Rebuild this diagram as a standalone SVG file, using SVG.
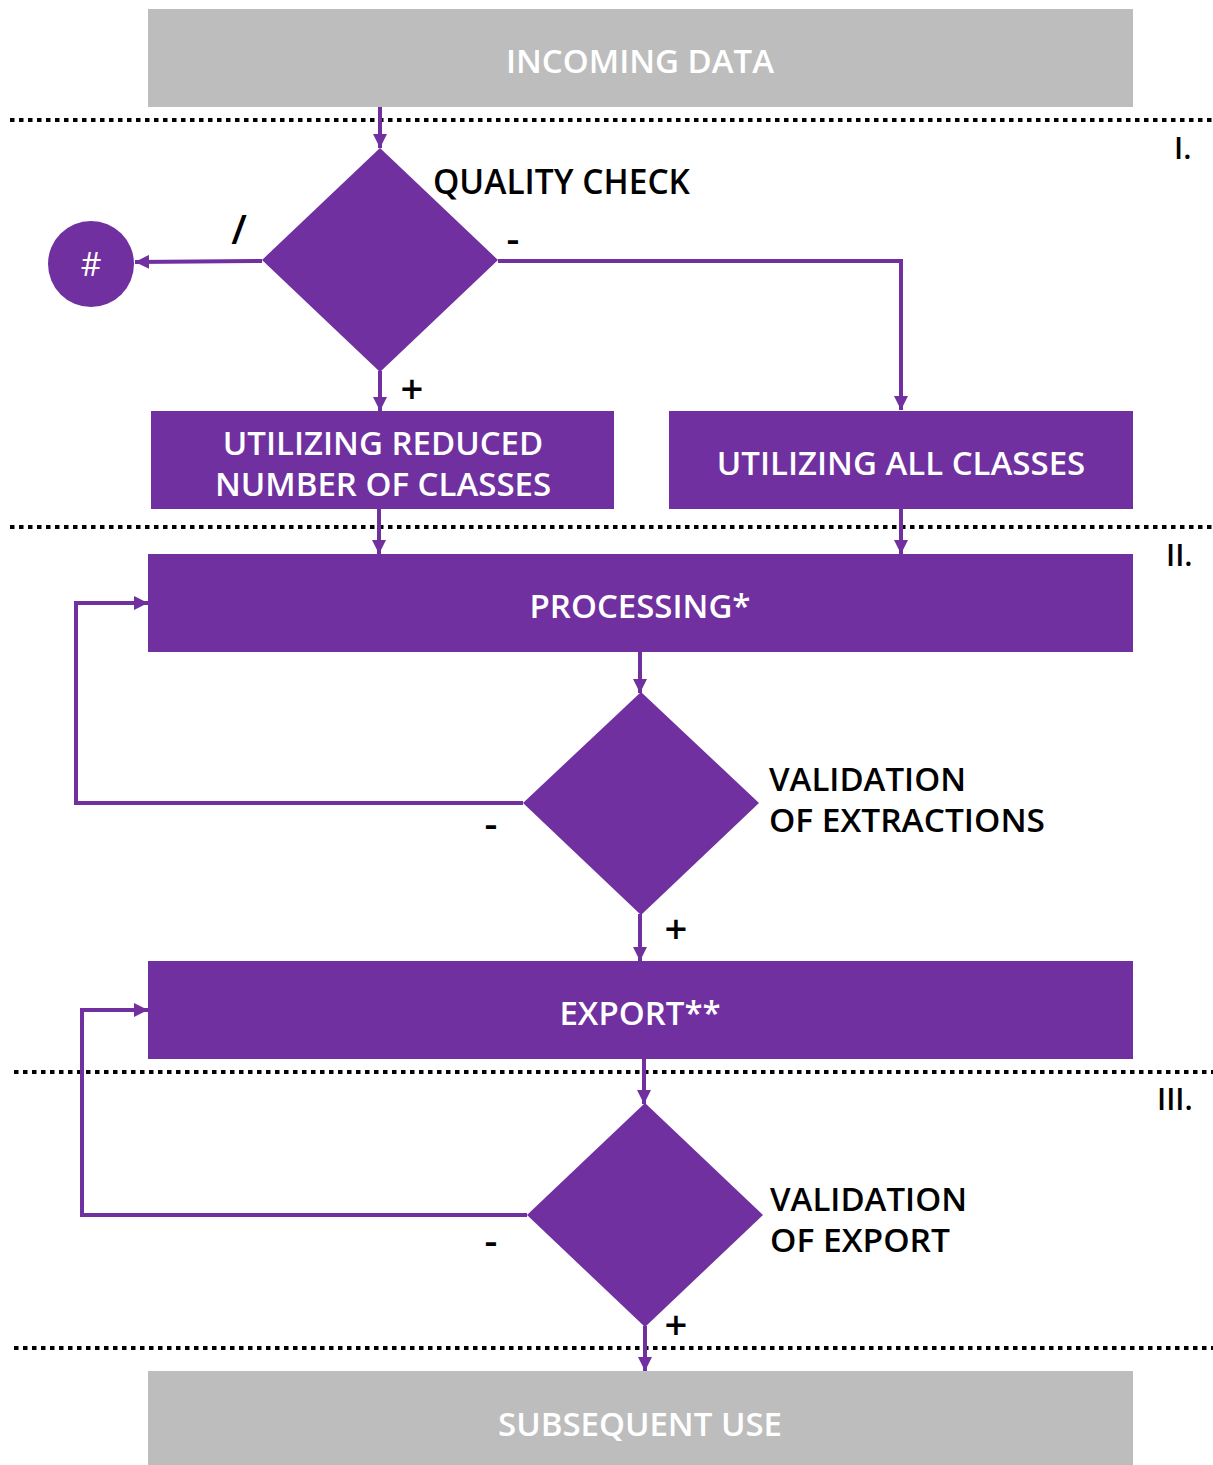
<svg xmlns="http://www.w3.org/2000/svg" width="1213" height="1465" viewBox="0 0 1213 1465">
<style>
.gray{fill:#bdbdbd}
.pur{fill:#7030a0}
.wt{fill:#ffffff;font-family:"Open Sans","Noto Sans",sans-serif;font-weight:600;font-size:33px;text-anchor:middle}
.bt{fill:#000000;font-family:"Open Sans","Noto Sans",sans-serif;font-weight:600;font-size:33.5px}
.bt2{fill:#000000;font-family:"Open Sans","Noto Sans",sans-serif;font-weight:600;font-size:33px}
.sym{fill:#000000;font-family:"Open Sans","Noto Sans",sans-serif;font-weight:600;font-size:40px;text-anchor:middle}
.dot{stroke:#000;stroke-width:4;stroke-dasharray:4.5 4.5;fill:none}
.con{stroke:#7030a0;stroke-width:4;fill:none}
</style>
<defs>
<marker id="ah" markerUnits="userSpaceOnUse" markerWidth="14" markerHeight="14" viewBox="0 0 14 14" refX="14" refY="7" orient="auto">
<path d="M0,0 L14,7 L0,14 Z" fill="#7030a0"/>
</marker>
</defs>
<g id="separators">
<line class="dot" x1="10" y1="120" x2="1213" y2="120"/>
<line class="dot" x1="10" y1="527" x2="1213" y2="527"/>
<line class="dot" x1="14" y1="1072" x2="1213" y2="1072"/>
<line class="dot" x1="14" y1="1348" x2="1213" y2="1348"/>
<text class="bt" x="1174" y="159" style="font-size:30px">I.</text>
<text class="bt" x="1166" y="566" style="font-size:30px">II.</text>
<text class="bt" x="1157" y="1110" style="font-size:30px">III.</text>
</g>
<g id="connectors">
<line class="con" x1="380" y1="107" x2="380" y2="148" marker-end="url(#ah)"/>
<line class="con" x1="262" y1="261" x2="135" y2="262" marker-end="url(#ah)"/>
<polyline class="con" points="498,261 901,261 901,410" marker-end="url(#ah)"/>
<line class="con" x1="380" y1="371" x2="380" y2="411" marker-end="url(#ah)"/>
<line class="con" x1="379" y1="509" x2="379" y2="554" marker-end="url(#ah)"/>
<line class="con" x1="901" y1="509" x2="901" y2="554" marker-end="url(#ah)"/>
<line class="con" x1="640" y1="652" x2="640" y2="693" marker-end="url(#ah)"/>
<polyline class="con" points="523,803 76,803 76,603 148,603" marker-end="url(#ah)"/>
<line class="con" x1="640" y1="914" x2="640" y2="961" marker-end="url(#ah)"/>
<line class="con" x1="644" y1="1059" x2="644" y2="1104" marker-end="url(#ah)"/>
<polyline class="con" points="527,1215 82,1215 82,1010 148,1010" marker-end="url(#ah)"/>
<line class="con" x1="645" y1="1326" x2="645" y2="1371" marker-end="url(#ah)"/>
<text class="sym" x="239" y="244">/</text>
<text class="sym" x="513" y="253">-</text>
<text class="sym" x="412" y="403">+</text>
<text class="sym" x="491" y="838">-</text>
<text class="sym" x="676" y="943">+</text>
<text class="sym" x="491" y="1255">-</text>
<text class="sym" x="676" y="1339">+</text>
</g>
<g id="incoming">
<rect class="gray" x="148" y="9" width="985" height="98"/>
<text class="wt" x="640" y="73">INCOMING DATA</text>
</g>
<g id="quality">
<polygon class="pur" points="380,148 498,260 380,372 262,260"/>
<text class="bt" x="433" y="194">QUALITY CHECK</text>
</g>
<g id="hash">
<circle class="pur" cx="91" cy="264" r="43"/>
<text class="wt" x="91" y="276" style="font-weight:400;font-size:32px">#</text>
</g>
<g id="reduced">
<rect class="pur" x="151" y="411" width="463" height="98"/>
<text class="wt" x="383" y="455">UTILIZING REDUCED<tspan x="383" dy="41">NUMBER OF CLASSES</tspan></text>
</g>
<g id="allclasses">
<rect class="pur" x="669" y="411" width="464" height="98"/>
<text class="wt" x="901" y="475">UTILIZING ALL CLASSES</text>
</g>
<g id="processing">
<rect class="pur" x="148" y="554" width="985" height="98"/>
<text class="wt" x="640" y="618">PROCESSING*</text>
</g>
<g id="validation1">
<polygon class="pur" points="641,692 759,803 641,915 523,803"/>
<text class="bt2" x="769" y="791" textLength="197" lengthAdjust="spacingAndGlyphs">VALIDATION</text>
<text class="bt2" x="769" y="832" textLength="276" lengthAdjust="spacingAndGlyphs">OF EXTRACTIONS</text>
</g>
<g id="export">
<rect class="pur" x="148" y="961" width="985" height="98"/>
<text class="wt" x="640" y="1025">EXPORT**</text>
</g>
<g id="validation2">
<polygon class="pur" points="645,1103 763,1215 645,1327 527,1215"/>
<text class="bt2" x="770" y="1211" textLength="197" lengthAdjust="spacingAndGlyphs">VALIDATION</text>
<text class="bt2" x="770" y="1252" textLength="180" lengthAdjust="spacingAndGlyphs">OF EXPORT</text>
</g>
<g id="subsequent">
<rect class="gray" x="148" y="1371" width="985" height="94"/>
<text class="wt" x="640" y="1436">SUBSEQUENT USE</text>
</g>
</svg>
